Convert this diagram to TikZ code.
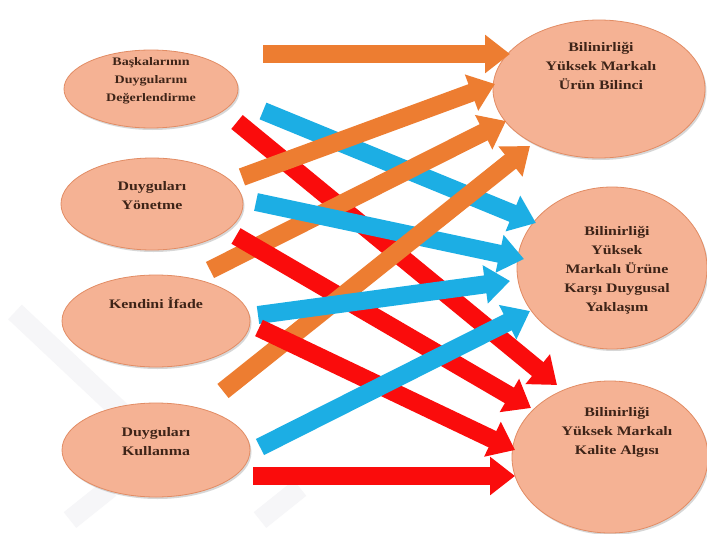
\documentclass[tikz,border=0pt]{standalone}
\usepackage{fontspec}
\setmainfont{Liberation Serif}[FakeStretch=1.22]
\usetikzlibrary{arrows.meta,shapes.geometric,shadows}
\definecolor{ellfill}{RGB}{245,178,148}
\definecolor{elledge}{RGB}{226,140,100}
\definecolor{txt}{RGB}{62,36,24}
\definecolor{aorange}{RGB}{237,125,49}
\definecolor{ablue}{RGB}{28,174,228}
\definecolor{ared}{RGB}{250,12,12}
\definecolor{wmark}{RGB}{246,246,248}
\begin{document}
\begin{tikzpicture}[x=1pt,y=-1pt,
  ell/.style={ellipse, draw=elledge, line width=0.8pt, fill=ellfill, inner sep=0pt,
    drop shadow={shadow xshift=1.5pt, shadow yshift=-2pt, opacity=0.22, fill=black!70}},
  lbl/.style={align=center, text=txt, font=\bfseries\fontsize{13}{19}\selectfont, inner sep=0pt},
  lblsmall/.style={lbl, font=\bfseries\fontsize{11.5}{18}\selectfont},
  blk/.style={line width=18pt, -{Triangle[width=37pt,length=25pt]}},
  wm/.style={line width=20pt, wmark}
]
\useasboundingbox (0,0) rectangle (707,533);
\fill[white] (0,0) rectangle (707,533);
% faint watermark
\draw[wm] (15,312) -- (135,425);
\draw[wm] (70,520) -- (110,488);
\draw[wm] (260,520) -- (300,488);
% ellipses
\node[ell, minimum width=174pt, minimum height=78pt] (e1) at (151,89) {};
\node[ell, minimum width=182pt, minimum height=92pt] (e2) at (152,204) {};
\node[ell, minimum width=188pt, minimum height=92pt] (e3) at (156,321) {};
\node[ell, minimum width=188pt, minimum height=94pt] (e4) at (156,450) {};
\node[ell, minimum width=212pt, minimum height=138pt] (r1) at (599,89) {};
\node[ell, minimum width=190pt, minimum height=162pt] (r2) at (612,268) {};
\node[ell, minimum width=196pt, minimum height=152pt] (r3) at (610,457) {};
% labels
\node[lblsmall] (e1t) at (151,81) {Başkalarının\\Duygularını\\Değerlendirme};
\node[lbl] (e2t) at (152,196) {Duyguları\\Yönetme};
\node[lbl] (e3t) at (156,303) {Kendini İfade};
\node[lbl] (e4t) at (156,442) {Duyguları\\Kullanma};
\node[lbl] (r1t) at (601,66) {Bilinirliği\\Yüksek Markalı\\Ürün Bilinci};
\node[lbl] (r2t) at (617,270) {Bilinirliği\\Yüksek\\Markalı Ürüne\\Karşı Duygusal\\Yaklaşım};
\node[lbl] (r3t) at (617,432) {Bilinirliği\\Yüksek Markalı\\Kalite Algısı};
% arrow end points
\coordinate (o1s) at (263,54);  \coordinate (o1e) at (510,54);
\coordinate (o2s) at (242,177); \coordinate (o2e) at (495,84);
\coordinate (o3s) at (210,270); \coordinate (o3e) at (506,121);
\coordinate (o4s) at (223,391); \coordinate (o4e) at (530,146);
\coordinate (b1s) at (263,111); \coordinate (b1e) at (536,223);
\coordinate (b2s) at (256,202); \coordinate (b2e) at (524,259);
\coordinate (b3s) at (258,315); \coordinate (b3e) at (510,281);
\coordinate (b4s) at (260,447); \coordinate (b4e) at (530,311);
\coordinate (r1s) at (237,122); \coordinate (r1e) at (557,385);
\coordinate (r2s) at (236,236); \coordinate (r2e) at (531,408);
\coordinate (r3s) at (259,328); \coordinate (r3e) at (515,450);
\coordinate (r4s) at (253,476); \coordinate (r4e) at (515,476);
% arrows, bottom to top
\draw[blk, aorange] (o1s) -- (o1e);
\draw[blk, ablue] (b1s) -- (b1e);
\draw[blk, ared] (r1s) -- (r1e);
\draw[blk, aorange] (o2s) -- (o2e);
\draw[blk, aorange] (o3s) -- (o3e);
\draw[blk, ablue] (b2s) -- (b2e);
\draw[blk, ared] (r2s) -- (r2e);
\draw[blk, aorange] (o4s) -- (o4e);
\draw[blk, ablue] (b3s) -- (b3e);
\draw[blk, ared] (r3s) -- (r3e);
\draw[blk, ablue] (b4s) -- (b4e);
\draw[blk, ared] (r4s) -- (r4e);
\end{tikzpicture}
\end{document}
